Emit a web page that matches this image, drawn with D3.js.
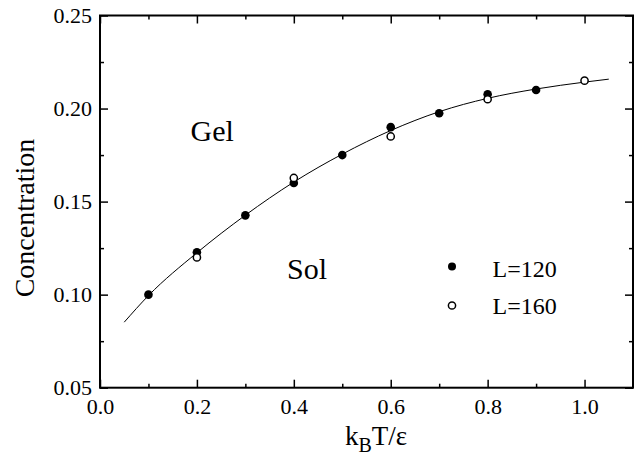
<!DOCTYPE html>
<html>
<head>
<meta charset="utf-8">
<script src="https://cdn.jsdelivr.net/npm/d3@7"></script>
<style>
  body { margin: 0; background: #fff; }
  svg, svg text { font-family: "Liberation Serif", "Times New Roman", serif; }
</style>
</head>
<body>
<svg id="chart_svg" width="640" height="455"></svg>
<script>
// Data
var l120_t = [0.1, 0.2, 0.3, 0.4, 0.5, 0.6, 0.7, 0.8, 0.9];
var l120_c = [0.100, 0.1228, 0.1426, 0.160, 0.175, 0.190, 0.1975, 0.2077, 0.210];

var l160_t = [0.2, 0.4, 0.6, 0.8, 1.0];
var l160_c = [0.120, 0.1627, 0.185, 0.205, 0.215];

// fitted line through the points
var fit_t = [0.05, 0.1, 0.2, 0.3, 0.4, 0.5, 0.6, 0.7, 0.8, 0.9, 1.0, 1.05];
var fit_c = [0.0852, 0.0995, 0.1225, 0.1427, 0.1605, 0.1755, 0.1882, 0.1983, 0.2055, 0.2105, 0.2142, 0.2158];

var x_ticks = [0.0, 0.2, 0.4, 0.6, 0.8, 1.0];
var x_minor = [0.1, 0.3, 0.5, 0.7, 0.9];
var y_ticks = [0.05, 0.10, 0.15, 0.20, 0.25];
var y_minor = [0.075, 0.125, 0.175, 0.225];

var margin = {left: 100, top: 15.5, right: 7, bottom: 67.3};
var serif = "'Liberation Serif', 'Times New Roman', serif";

document.addEventListener("DOMContentLoaded", function() {
    var svg = d3.select("#chart_svg");
    var width = 640, height = 455;

    var xScale = d3.scaleLinear().domain([0, 1.1]).range([margin.left, width - margin.right]);
    var yScale = d3.scaleLinear().domain([0.05, 0.25]).range([height - margin.bottom, margin.top]);

    var x0 = xScale.range()[0], x1 = xScale.range()[1];
    var y0 = yScale.range()[0], y1 = yScale.range()[1];

    // Axes (ticks pointing in on all four sides)
    var fmtX = d3.format(".1f"), fmtY = d3.format(".2f");

    function styleAxis(g) {
        g.attr("font-family", serif).attr("font-size", 22);
        g.select(".domain").remove();
        g.selectAll("line").attr("stroke", "#000").attr("stroke-width", 1.5);
        g.selectAll("text").attr("fill", "#000")
            .style("font-family", serif)
            .style("font-size", "22px");
    }

    // bottom
    svg.append("g").attr("transform", `translate(0,${y0})`)
        .call(d3.axisBottom(xScale).tickValues(x_ticks).tickFormat(fmtX).tickSizeInner(-8).tickPadding(11))
        .call(styleAxis);
    svg.append("g").attr("transform", `translate(0,${y0})`)
        .call(d3.axisBottom(xScale).tickValues(x_minor).tickFormat("").tickSizeInner(-4))
        .call(styleAxis);
    // top
    svg.append("g").attr("transform", `translate(0,${y1})`)
        .call(d3.axisTop(xScale).tickValues(x_ticks).tickFormat("").tickSizeInner(-8))
        .call(styleAxis);
    svg.append("g").attr("transform", `translate(0,${y1})`)
        .call(d3.axisTop(xScale).tickValues(x_minor).tickFormat("").tickSizeInner(-4))
        .call(styleAxis);
    // left
    svg.append("g").attr("transform", `translate(${x0},0)`)
        .call(d3.axisLeft(yScale).tickValues(y_ticks).tickFormat(fmtY).tickSizeInner(-8).tickPadding(8))
        .call(styleAxis);
    svg.append("g").attr("transform", `translate(${x0},0)`)
        .call(d3.axisLeft(yScale).tickValues(y_minor).tickFormat("").tickSizeInner(-4))
        .call(styleAxis);
    // right
    svg.append("g").attr("transform", `translate(${x1},0)`)
        .call(d3.axisRight(yScale).tickValues(y_ticks).tickFormat("").tickSizeInner(-8))
        .call(styleAxis);
    svg.append("g").attr("transform", `translate(${x1},0)`)
        .call(d3.axisRight(yScale).tickValues(y_minor).tickFormat("").tickSizeInner(-4))
        .call(styleAxis);

    // frame
    svg.append("rect")
        .attr("x", x0).attr("y", y1)
        .attr("width", x1 - x0).attr("height", y0 - y1)
        .attr("fill", "none").attr("stroke", "#000").attr("stroke-width", 2);

    // fitted curve
    var fit = fit_t.map(function(t, i) { return {t: t, c: fit_c[i]}; });
    svg.append("path")
        .datum(fit)
        .attr("fill", "none")
        .attr("stroke", "#000")
        .attr("stroke-width", 1)
        .attr("d", d3.line()
            .curve(d3.curveMonotoneX)
            .x(function(d) { return xScale(d.t); })
            .y(function(d) { return yScale(d.c); }));

    // L=120 filled
    svg.append("g").selectAll("circle")
        .data(l120_t.map(function(t, i) { return {t: t, c: l120_c[i]}; }))
        .enter().append("circle")
        .attr("cx", function(d) { return xScale(d.t); })
        .attr("cy", function(d) { return yScale(d.c); })
        .attr("r", 4.3)
        .attr("fill", "#000");

    // L=160 open
    svg.append("g").selectAll("circle")
        .data(l160_t.map(function(t, i) { return {t: t, c: l160_c[i]}; }))
        .enter().append("circle")
        .attr("cx", function(d) { return xScale(d.t); })
        .attr("cy", function(d) { return yScale(d.c); })
        .attr("r", 3.6)
        .attr("fill", "#fff")
        .attr("stroke", "#000")
        .attr("stroke-width", 1.5);

    // region labels
    svg.append("text").attr("x", 190.5).attr("y", 140.7)
        .style("font-size", "30px").text("Gel");
    svg.append("text").attr("x", 287).attr("y", 278.5)
        .style("font-size", "30px").text("Sol");

    // legend
    svg.append("circle").attr("cx", 452).attr("cy", 266.5).attr("r", 4).attr("fill", "#000");
    svg.append("circle").attr("cx", 452).attr("cy", 305.5).attr("r", 3.6)
        .attr("fill", "#fff").attr("stroke", "#000").attr("stroke-width", 1.5);
    svg.append("text").attr("x", 492.5).attr("y", 276.5)
        .style("font-size", "24px").text("L=120");
    svg.append("text").attr("x", 492.5).attr("y", 314)
        .style("font-size", "24px").text("L=160");

    // axis titles
    svg.append("text")
        .attr("transform", "translate(34,218) rotate(-90)")
        .attr("text-anchor", "middle")
        .style("font-size", "28px")
        .text("Concentration");

    var xt = svg.append("text")
        .attr("x", 376).attr("y", 445)
        .attr("text-anchor", "middle")
        .style("font-size", "27px");
    xt.append("tspan").text("k");
    xt.append("tspan").attr("dy", 7).style("font-size", "20px").text("B");
    xt.append("tspan").attr("dy", -7).text("T/ε");
});
</script>
</body>
</html>
